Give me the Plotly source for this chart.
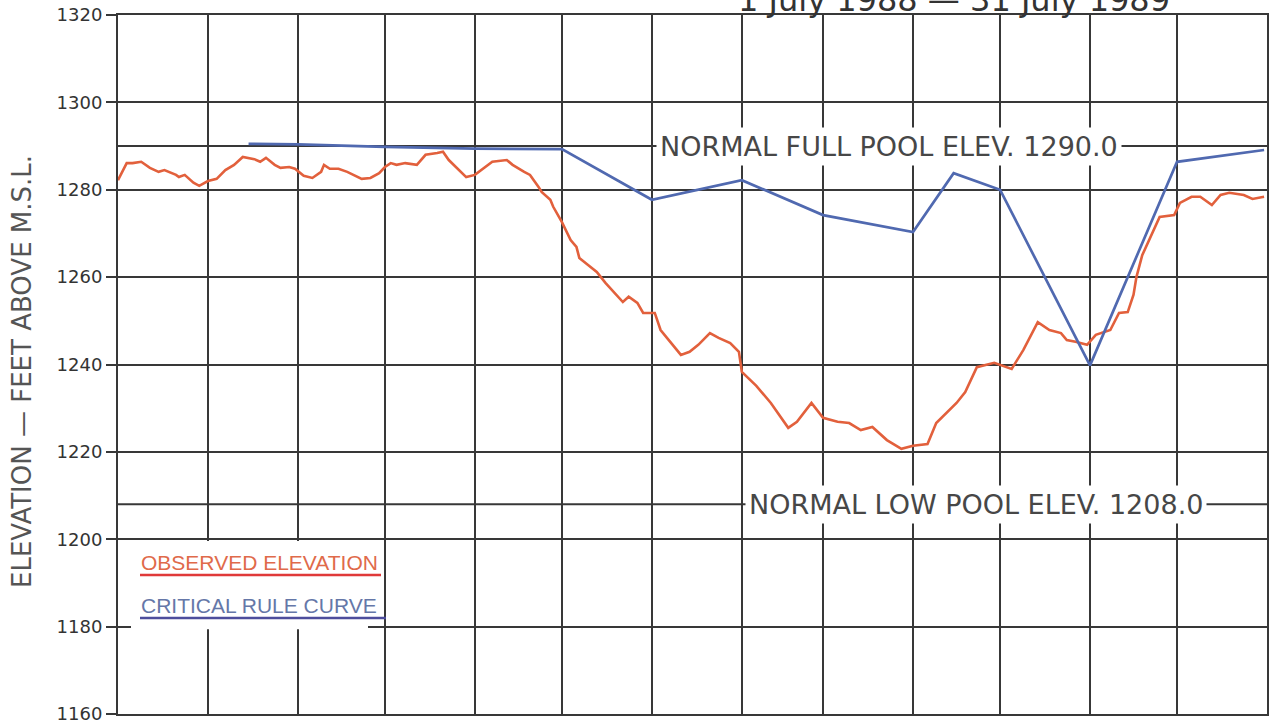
import plotly.graph_objects as go

# ---------------- data ----------------
obs_dates = [
    "1988-07-01", "1988-07-04", "1988-07-06", "1988-07-09", "1988-07-12", "1988-07-15",
    "1988-07-17", "1988-07-21", "1988-07-22", "1988-07-24", "1988-07-27", "1988-07-29",
    "1988-08-01", "1988-08-04", "1988-08-07", "1988-08-10", "1988-08-13", "1988-08-17",
    "1988-08-19", "1988-08-21", "1988-08-24", "1988-08-26", "1988-08-29", "1988-08-31",
    "1988-09-03", "1988-09-06", "1988-09-09", "1988-09-10", "1988-09-12", "1988-09-15",
    "1988-09-18", "1988-09-20", "1988-09-23", "1988-09-26", "1988-09-29",
    "1988-10-01", "1988-10-03", "1988-10-05", "1988-10-08", "1988-10-12", "1988-10-15",
    "1988-10-19", "1988-10-21", "1988-10-23", "1988-10-27", "1988-10-29",
    "1988-11-01", "1988-11-04", "1988-11-07", "1988-11-12", "1988-11-14", "1988-11-18",
    "1988-11-20", "1988-11-23", "1988-11-24", "1988-11-27", "1988-11-28",
    "1988-12-01", "1988-12-04", "1988-12-06", "1988-12-07", "1988-12-10", "1988-12-13",
    "1988-12-16", "1988-12-19", "1988-12-22", "1988-12-24", "1988-12-27", "1988-12-29",
    "1989-01-02", "1989-01-04", "1989-01-08", "1989-01-11", "1989-01-14", "1989-01-17",
    "1989-01-21", "1989-01-24", "1989-01-28", "1989-01-31",
    "1989-02-01", "1989-02-06", "1989-02-11", "1989-02-17", "1989-02-20", "1989-02-25",
    "1989-03-01", "1989-03-06", "1989-03-10", "1989-03-14", "1989-03-18", "1989-03-23",
    "1989-03-28",
    "1989-04-01", "1989-04-06", "1989-04-09", "1989-04-16", "1989-04-19", "1989-04-23",
    "1989-04-29",
    "1989-05-05", "1989-05-09", "1989-05-14", "1989-05-18", "1989-05-22", "1989-05-24",
    "1989-05-27", "1989-05-31",
    "1989-06-03", "1989-06-08", "1989-06-11", "1989-06-14", "1989-06-16", "1989-06-17",
    "1989-06-19", "1989-06-23", "1989-06-25", "1989-06-30",
    "1989-07-02", "1989-07-06", "1989-07-09", "1989-07-13", "1989-07-16", "1989-07-19",
    "1989-07-24", "1989-07-27", "1989-07-31",
]
obs_elev = [
    1282.2, 1286.1, 1286.1, 1286.4, 1285.0, 1284.1,
    1284.5, 1283.4, 1282.9, 1283.4, 1281.6, 1280.9,
    1282.0, 1282.5, 1284.5, 1285.7, 1287.5, 1287.0,
    1286.4, 1287.3, 1285.7, 1285.0, 1285.2, 1284.8,
    1283.2, 1282.7, 1284.1, 1285.7, 1284.8, 1284.8,
    1284.1, 1283.4, 1282.5, 1282.7, 1283.8,
    1285.2, 1286.1, 1285.7, 1286.1, 1285.7, 1288.0,
    1288.4, 1288.7, 1286.8, 1284.1, 1282.9,
    1283.4, 1285.0, 1286.4, 1286.8, 1285.7, 1284.1,
    1283.4, 1280.6, 1279.5, 1277.7, 1276.1,
    1272.6, 1268.5, 1266.9, 1264.4, 1262.8, 1261.2,
    1258.7, 1256.4, 1254.3, 1255.5, 1254.1, 1251.8,
    1251.8, 1247.9, 1244.5, 1242.2, 1242.9, 1244.5,
    1247.2, 1246.1, 1244.9, 1242.9,
    1238.3, 1235.1, 1231.2, 1225.5, 1226.9, 1231.2,
    1227.8, 1226.9, 1226.6, 1225.0, 1225.7, 1222.7,
    1220.7,
    1221.4, 1221.8, 1226.6, 1231.2, 1233.7, 1239.4,
    1240.4,
    1239.0, 1243.3, 1249.7, 1247.9, 1247.2, 1245.6,
    1245.2, 1244.5,
    1246.8, 1247.9, 1251.8, 1252.0, 1256.0, 1260.0,
    1265.0, 1270.8, 1273.8, 1274.2,
    1277.0, 1278.4, 1278.4, 1276.5, 1278.8, 1279.3,
    1278.8, 1277.9, 1278.4,
]

rule_dates = [
    "1988-08-15", "1988-09-01", "1988-10-01", "1988-11-01", "1988-12-01",
    "1989-01-01", "1989-02-01", "1989-03-01", "1989-04-01", "1989-04-15",
    "1989-05-01", "1989-06-01", "1989-07-01", "1989-07-31",
]
rule_elev = [
    1290.5, 1290.4, 1289.8, 1289.4, 1289.3,
    1277.7, 1282.2, 1274.2, 1270.3, 1283.8,
    1280.0, 1239.8, 1286.4, 1289.1,
]

y_ticks = [1160, 1180, 1200, 1220, 1240, 1260, 1280, 1300, 1320]
full_pool = 1290.0
low_pool = 1208.0
x_start, x_end = "1988-07-01", "1989-08-01"

full_label = "NORMAL FULL POOL ELEV. 1290.0"
low_label = "NORMAL LOW POOL ELEV. 1208.0"
legend_obs = "OBSERVED ELEVATION"
legend_rule = "CRITICAL RULE CURVE"
y_title = "ELEVATION — FEET ABOVE M.S.L."
period_title = "1 July 1988 — 31 July 1989"

# ---------------- styling ----------------
GRID = "#383838"
RED = "#e2603c"
BLUE = "#5069b0"
TXT = "#474747"
W, H = 1275, 725
L, R, T, B = 118, 8, 15, 11
pw = W - L - R
ph = H - T - B


def px_x(px):
    return (px - L) / pw


def px_y(py):
    return (H - B - py) / ph


fig = go.Figure()
fig.add_trace(go.Scatter(x=obs_dates, y=obs_elev, mode="lines",
                         line=dict(color=RED, width=2.6), name=legend_obs,
                         showlegend=False))
fig.add_trace(go.Scatter(x=rule_dates, y=rule_elev, mode="lines",
                         line=dict(color=BLUE, width=2.7), name=legend_rule,
                         showlegend=False))

shapes = []
# pool reference lines
for lvl in (full_pool, low_pool):
    shapes.append(dict(type="line", xref="paper", yref="y", x0=0, x1=1, y0=lvl, y1=lvl,
                       line=dict(color=GRID, width=2), layer="between"))
# white legend box hiding the grid
shapes.append(dict(type="rect", xref="paper", yref="y", x0=px_x(131), x1=px_x(368),
                   y0=1179.4, y1=1199.6, fillcolor="white", line=dict(width=0),
                   layer="above"))
# legend underlines
shapes.append(dict(type="line", xref="paper", yref="paper", x0=px_x(140), x1=px_x(381),
                   y0=px_y(575), y1=px_y(575), line=dict(color="#e03a3a", width=2.6),
                   layer="above"))
shapes.append(dict(type="line", xref="paper", yref="paper", x0=px_x(140), x1=px_x(386),
                   y0=px_y(618), y1=px_y(618), line=dict(color="#4d4d9c", width=2.6),
                   layer="above"))

annotations = [
    dict(text=full_label, xref="paper", yref="y", x=px_x(656), y=full_pool,
         xanchor="left", yanchor="middle", showarrow=False, bgcolor="white",
         borderpad=3, font=dict(family="DejaVu Sans", size=27, color=TXT)),
    dict(text=low_label, xref="paper", yref="y", x=px_x(745), y=low_pool,
         xanchor="left", yanchor="middle", showarrow=False, bgcolor="white",
         borderpad=3, font=dict(family="DejaVu Sans", size=27, color=TXT)),
    dict(text=legend_obs, xref="paper", yref="paper", x=px_x(139), y=px_y(562),
         xanchor="left", yanchor="middle", showarrow=False,
         font=dict(family="Liberation Sans", size=21, color="#e06a4a")),
    dict(text=legend_rule, xref="paper", yref="paper", x=px_x(139), y=px_y(605),
         xanchor="left", yanchor="middle", showarrow=False,
         font=dict(family="Liberation Sans", size=21, color="#6577a8")),
    dict(text=y_title, xref="paper", yref="paper", x=px_x(22), y=px_y(372),
         xanchor="center", yanchor="middle", textangle=-90, showarrow=False,
         font=dict(family="DejaVu Sans", size=26, color="#555555")),
    dict(text=period_title, xref="paper", yref="paper", x=px_x(736), y=px_y(0),
         xanchor="left", yanchor="middle", showarrow=False,
         font=dict(family="DejaVu Sans", size=32, color="#333333")),
]

fig.update_layout(
    width=W, height=H,
    margin=dict(l=L, r=R, t=T, b=B, pad=0, autoexpand=False),
    paper_bgcolor="white", plot_bgcolor="white",
    shapes=shapes, annotations=annotations, showlegend=False,
    xaxis=dict(type="date", range=[x_start, x_end], tick0=x_start, dtick="M1",
               showticklabels=False, ticks="", showgrid=True, gridcolor=GRID,
               gridwidth=2, showline=True, mirror=True, linecolor=GRID,
               linewidth=2, zeroline=False, automargin=False),
    yaxis=dict(range=[y_ticks[0], y_ticks[-1]], tickvals=y_ticks, ticks="outside",
               ticklen=10, tickwidth=2, tickcolor=GRID, showgrid=True,
               gridcolor=GRID, gridwidth=2, showline=True, mirror=True,
               linecolor=GRID, linewidth=2, zeroline=False, automargin=False,
               tickfont=dict(family="DejaVu Sans", size=18, color="#333333")),
)

fig.write_html("out.html", config={"displayModeBar": False},
               post_script="document.body.style.margin='0';document.body.style.overflow='hidden';")
